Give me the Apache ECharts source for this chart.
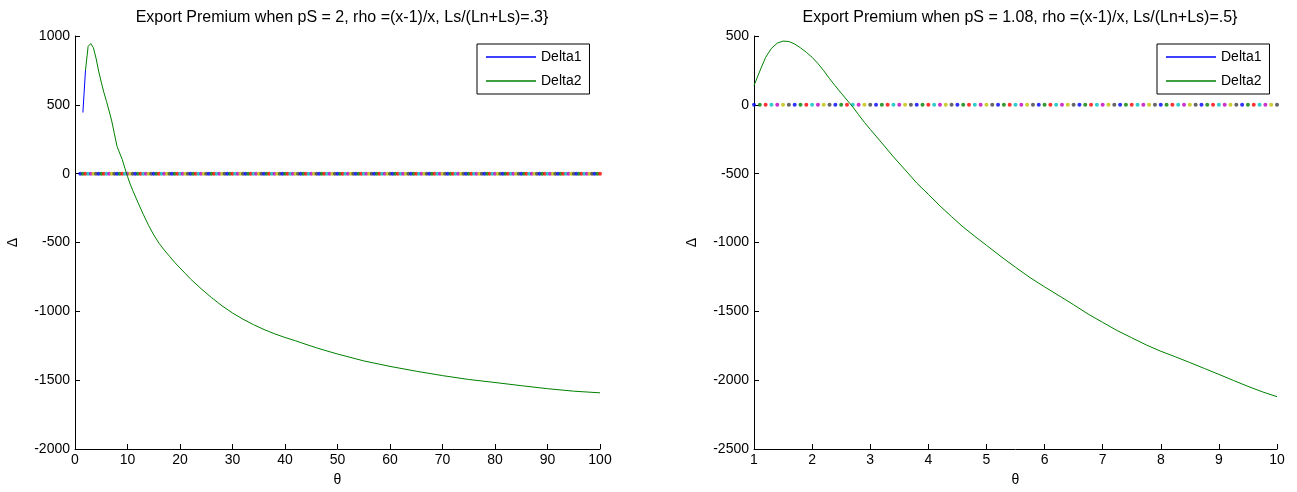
<!DOCTYPE html>
<html>
<head>
<meta charset="utf-8">
<script src="https://cdn.jsdelivr.net/npm/echarts@6/dist/echarts.min.js"></script>
<style>
html,body{margin:0;padding:0;background:#fff;}
#chart{width:1297px;height:492px;}
</style>
</head>
<body>
<div id="chart"></div>
<script>
// ---------- Left panel data ----------
const thetaDelta1L = [1.5, 2];
const delta1L = [444, 752];
const thetaDelta2L = [2, 2.5, 3, 3.5, 4, 4.5, 5, 5.5, 6, 6.5, 7, 7.5, 8, 8.5, 9, 9.5, 10, 10.5, 11, 12, 13, 14, 15, 16, 17, 18, 19, 20, 21, 22, 24, 26, 28, 30, 32, 34, 36, 38, 40, 42, 44, 46, 48, 50, 55, 60, 65, 70, 75, 80, 85, 90, 95, 100];
const delta2L = [752, 925, 945, 915, 840, 745, 665, 590, 525, 455, 382, 290, 199, 150, 103, 40, -20, -75, -122, -210, -295, -375, -445, -505, -555, -600, -645, -685, -725, -765, -835, -900, -960, -1012, -1057, -1097, -1132, -1163, -1190, -1214, -1240, -1265, -1288, -1310, -1360, -1400, -1435, -1467, -1495, -1517, -1540, -1562, -1580, -1592];
const dotThetaL = [1,1.5,2,2.5,3,3.5,4,4.5,5,5.5,6,6.5,7,7.5,8,8.5,9,9.5,10,10.5,11,11.5,12,12.5,13,13.5,14,14.5,15,15.5,16,16.5,17,17.5,18,18.5,19,19.5,20,20.5,21,21.5,22,22.5,23,23.5,24,24.5,25,25.5,26,26.5,27,27.5,28,28.5,29,29.5,30,30.5,31,31.5,32,32.5,33,33.5,34,34.5,35,35.5,36,36.5,37,37.5,38,38.5,39,39.5,40,40.5,41,41.5,42,42.5,43,43.5,44,44.5,45,45.5,46,46.5,47,47.5,48,48.5,49,49.5,50,50.5,51,51.5,52,52.5,53,53.5,54,54.5,55,55.5,56,56.5,57,57.5,58,58.5,59,59.5,60,60.5,61,61.5,62,62.5,63,63.5,64,64.5,65,65.5,66,66.5,67,67.5,68,68.5,69,69.5,70,70.5,71,71.5,72,72.5,73,73.5,74,74.5,75,75.5,76,76.5,77,77.5,78,78.5,79,79.5,80,80.5,81,81.5,82,82.5,83,83.5,84,84.5,85,85.5,86,86.5,87,87.5,88,88.5,89,89.5,90,90.5,91,91.5,92,92.5,93,93.5,94,94.5,95,95.5,96,96.5,97,97.5,98,98.5,99,99.5,100];
const dotDeltaL = [0,0,0,0,0,0,0,0,0,0,0,0,0,0,0,0,0,0,0,0,0,0,0,0,0,0,0,0,0,0,0,0,0,0,0,0,0,0,0,0,0,0,0,0,0,0,0,0,0,0,0,0,0,0,0,0,0,0,0,0,0,0,0,0,0,0,0,0,0,0,0,0,0,0,0,0,0,0,0,0,0,0,0,0,0,0,0,0,0,0,0,0,0,0,0,0,0,0,0,0,0,0,0,0,0,0,0,0,0,0,0,0,0,0,0,0,0,0,0,0,0,0,0,0,0,0,0,0,0,0,0,0,0,0,0,0,0,0,0,0,0,0,0,0,0,0,0,0,0,0,0,0,0,0,0,0,0,0,0,0,0,0,0,0,0,0,0,0,0,0,0,0,0,0,0,0,0,0,0,0,0,0,0,0,0,0,0,0,0,0,0,0,0,0,0,0,0,0,0];
const xTicksL = {min: 0, max: 100, interval: 10};
const yTicksL = {min: -2000, max: 1000, interval: 500};

// ---------- Right panel data ----------
const thetaDelta1R = [];
const delta1R = [];
const thetaDelta2R = [1.0, 1.1, 1.2, 1.3, 1.4, 1.5, 1.6, 1.7, 1.8, 1.9, 2.0, 2.1, 2.2, 2.3, 2.4, 2.5, 2.6, 2.7, 2.8, 2.9, 3.0, 3.2, 3.4, 3.6, 3.8, 4.0, 4.2, 4.4, 4.6, 4.8, 5.0, 5.25, 5.5, 5.75, 6.0, 6.25, 6.5, 6.75, 7.0, 7.25, 7.5, 7.75, 8.0, 8.25, 8.5, 8.75, 9.0, 9.25, 9.5, 9.75, 10];
const delta2R = [140, 245, 345, 410, 448, 463, 460, 442, 414, 382, 345, 300, 248, 190, 137, 85, 35, -15, -72, -127, -178, -277, -378, -472, -568, -650, -734, -812, -888, -955, -1020, -1102, -1180, -1255, -1322, -1387, -1452, -1520, -1580, -1640, -1692, -1744, -1790, -1830, -1872, -1915, -1958, -2002, -2045, -2085, -2120];
const dotThetaR = [1.0,1.1,1.2,1.3,1.4,1.5,1.6,1.7,1.8,1.9,2.0,2.1,2.2,2.3,2.4,2.5,2.6,2.7,2.8,2.9,3.0,3.1,3.2,3.3,3.4,3.5,3.6,3.7,3.8,3.9,4.0,4.1,4.2,4.3,4.4,4.5,4.6,4.7,4.8,4.9,5.0,5.1,5.2,5.3,5.4,5.5,5.6,5.7,5.8,5.9,6.0,6.1,6.2,6.3,6.4,6.5,6.6,6.7,6.8,6.9,7.0,7.1,7.2,7.3,7.4,7.5,7.6,7.7,7.8,7.9,8.0,8.1,8.2,8.3,8.4,8.5,8.6,8.7,8.8,8.9,9.0,9.1,9.2,9.3,9.4,9.5,9.6,9.7,9.8,9.9,10.0];
const dotDeltaR = [0,0,0,0,0,0,0,0,0,0,0,0,0,0,0,0,0,0,0,0,0,0,0,0,0,0,0,0,0,0,0,0,0,0,0,0,0,0,0,0,0,0,0,0,0,0,0,0,0,0,0,0,0,0,0,0,0,0,0,0,0,0,0,0,0,0,0,0,0,0,0,0,0,0,0,0,0,0,0,0,0,0,0,0,0,0,0,0,0,0,0];
const xTicksR = {min: 1, max: 10, interval: 1};
const yTicksR = {min: -2500, max: 500, interval: 500};

const titles = [
  'Export Premium when pS = 2, rho =(x-1)/x, Ls/(Ln+Ls)=.3}',
  'Export Premium when pS = 1.08, rho =(x-1)/x, Ls/(Ln+Ls)=.5}'
];
const seriesNames = ['Delta1', 'Delta2'];
const dotColors = ['#0000FF', '#008000', '#FF0000', '#00BFBF', '#BF00BF', '#BFBF00', '#404040'];

const FONT = 'Liberation Sans, Arial, sans-serif';
const zip = (xs, ys) => xs.map((x, i) => [x, ys[i]]);

function xAxis(idx, t) {
  return {
    type: 'value', gridIndex: idx, min: t.min, max: t.max, interval: t.interval,
    name: 'θ', nameLocation: 'middle', nameGap: 24,
    nameTextStyle: {color: '#000', fontSize: 14, fontFamily: FONT},
    axisLine: {onZero: false, lineStyle: {color: '#000', width: 1}},
    axisTick: {inside: true, length: 5, lineStyle: {color: '#000'}},
    axisLabel: {color: '#000', fontSize: 14, fontFamily: FONT, margin: 4, formatter: v => String(v)},
    splitLine: {show: false}
  };
}
function yAxis(idx, t) {
  return {
    type: 'value', gridIndex: idx, min: t.min, max: t.max, interval: t.interval,
    name: 'Δ', nameLocation: 'middle', nameGap: 55, nameRotate: 90,
    nameTextStyle: {color: '#000', fontSize: 14, fontFamily: FONT},
    axisLine: {onZero: false, lineStyle: {color: '#000', width: 1}},
    axisTick: {inside: true, length: 5, lineStyle: {color: '#000'}},
    axisLabel: {color: '#000', fontSize: 14, fontFamily: FONT, margin: 5, formatter: v => String(v)},
    splitLine: {show: false}
  };
}
function dotSeries(idx, xs, ys, size) {
  return {
    type: 'scatter', xAxisIndex: idx, yAxisIndex: idx, data: zip(xs, ys),
    symbol: 'circle', symbolSize: size, silent: true, z: 2,
    itemStyle: {color: p => dotColors[p.dataIndex % dotColors.length]}
  };
}
function lineSeries(idx, name, color, xs, ys) {
  return {
    type: 'line', name: name, xAxisIndex: idx, yAxisIndex: idx, data: zip(xs, ys),
    showSymbol: false, symbol: 'none', smooth: false, z: 3,
    lineStyle: {color: color, width: 1}, itemStyle: {color: color}
  };
}
function legend(left) {
  return {
    data: seriesNames, orient: 'vertical', left: left, top: 44,
    backgroundColor: '#fff', borderColor: '#000', borderWidth: 1,
    padding: [5, 8, 5, 9], itemGap: 8, itemWidth: 50, itemHeight: 1.5, icon: 'rect',
    selectedMode: false,
    textStyle: {color: '#000', fontSize: 14, fontFamily: FONT, lineHeight: 16}
  };
}

const chart = echarts.init(document.getElementById('chart'), null, {renderer: 'canvas'});
chart.setOption({
  animation: false,
  backgroundColor: '#fff',
  title: [
    {text: titles[0], left: 337, top: 5, textAlign: 'center',
     textStyle: {fontSize: 16, fontWeight: 'normal', color: '#000', fontFamily: FONT}},
    {text: titles[1], left: 1015, top: 5, textAlign: 'center',
     textStyle: {fontSize: 16, fontWeight: 'normal', color: '#000', fontFamily: FONT}}
  ],
  legend: [legend(477), legend(1157)],
  grid: [
    {left: 75, right: 697, top: 36, bottom: 41},
    {left: 754, right: 20, top: 36, bottom: 41}
  ],
  xAxis: [xAxis(0, xTicksL), xAxis(1, xTicksR)],
  yAxis: [yAxis(0, yTicksL), yAxis(1, yTicksR)],
  series: [
    dotSeries(0, dotThetaL, dotDeltaL, 4),
    lineSeries(0, seriesNames[0], '#0000FF', thetaDelta1L, delta1L),
    lineSeries(0, seriesNames[1], '#008000', thetaDelta2L, delta2L),
    dotSeries(1, dotThetaR, dotDeltaR, 4),
    lineSeries(1, seriesNames[0], '#0000FF', thetaDelta1R, delta1R),
    lineSeries(1, seriesNames[1], '#008000', thetaDelta2R, delta2R)
  ]
});
</script>
</body>
</html>
